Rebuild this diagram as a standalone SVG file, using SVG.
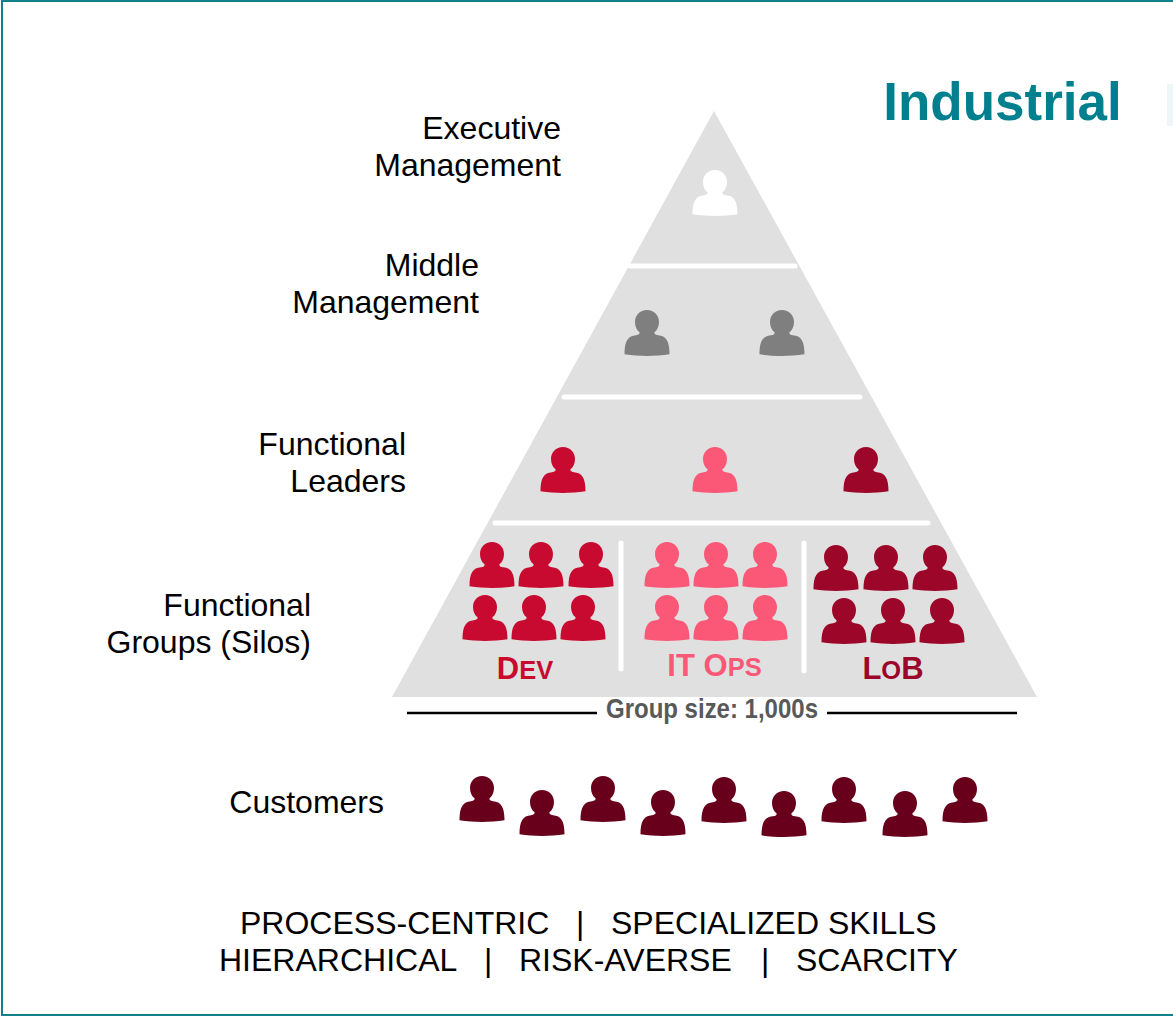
<svg xmlns="http://www.w3.org/2000/svg" width="1173" height="1016" viewBox="0 0 1173 1016">
<style>
text{font-family:"Liberation Sans",Arial,sans-serif}
.l{font-size:32px;fill:#000;text-anchor:end}
.b{font-size:32px;fill:#000}
.g{font-weight:700;text-anchor:middle}
.sep{stroke:#fff;stroke-width:5;stroke-linecap:round;fill:none}
.rule{stroke:#000;stroke-width:2.5;fill:none}
.w{fill:#fff}.y{fill:#7f7f7f}.r{fill:#c90a30}.p{fill:#fb5878}.d{fill:#9c0629}.c{fill:#69001b}
</style>
<defs>
<symbol id="person" viewBox="-23 0 46 46" width="46" height="46" overflow="visible">
<path d="M0 0C7 0 12 5.200 12 12C12 16.800 10.200 20 7.500 22.300C7 23.500 8 24.800 11 25.200C19 25.800 22.500 31 22.500 44.300C15 45.600 7.500 46 0 46C-7.500 46 -15 45.600 -22.500 44.300C-22.500 31 -19 25.800 -11 25.200C-8 24.800 -7 23.500 -7.500 22.300C-10.200 20 -12 16.800 -12 12C-12 5.200 -7 0 0 0Z"/>
</symbol>
</defs>
<rect x="2" y="1" width="1173" height="1014" fill="#fff" stroke="#14808e" stroke-width="2"/>
<rect x="1167" y="84" width="6" height="42" fill="#eef6f7"/>
<text x="1002.500" y="120" font-size="53" font-weight="700" fill="#007f8f" text-anchor="middle">Industrial</text>
<g id="pyramid">
<polygon points="714,111 1037,697 392,697" fill="#e0e0e0"/>
</g>
<g id="connectors">
<path class="sep" d="M630 266H795M564 397H860M495 523H928M621 543V669M804 543V671"/>
<path class="rule" d="M407 713H597M827 713H1017"/>
</g>
<g id="executive"><text class="l" x="561" y="139">Executive</text><text class="l" x="561" y="176">Management</text><use href="#person" x="692" y="170" class="w"/></g>
<g id="middle"><text class="l" x="479" y="276">Middle</text><text class="l" x="479" y="313">Management</text><use href="#person" x="624" y="310" class="y"/><use href="#person" x="759" y="310" class="y"/></g>
<g id="leaders"><text class="l" x="406" y="455">Functional</text><text class="l" x="406" y="492">Leaders</text><use href="#person" x="540" y="447" class="r"/><use href="#person" x="692" y="447" class="p"/><use href="#person" x="843" y="447" class="d"/></g>
<g id="groups"><text class="l" x="311" y="616">Functional</text><text class="l" x="311" y="653">Groups (Silos)</text></g>
<g id="dev">
<use href="#person" x="469" y="542" class="r"/><use href="#person" x="518" y="542" class="r"/><use href="#person" x="568" y="542" class="r"/>
<use href="#person" x="462" y="595" class="r"/><use href="#person" x="511" y="595" class="r"/><use href="#person" x="560" y="595" class="r"/>
<text class="g" x="525" y="679" fill="#c90a30" font-size="31">D<tspan font-size="25.500">EV</tspan></text></g>
<g id="itops">
<use href="#person" x="644" y="542" class="p"/><use href="#person" x="693" y="542" class="p"/><use href="#person" x="742" y="542" class="p"/>
<use href="#person" x="644" y="595" class="p"/><use href="#person" x="693" y="595" class="p"/><use href="#person" x="742" y="595" class="p"/>
<text class="g" x="714.500" y="676" fill="#fb5878" font-size="31">IT O<tspan font-size="25.500">PS</tspan></text></g>
<g id="lob">
<use href="#person" x="813" y="545" class="d"/><use href="#person" x="863" y="545" class="d"/><use href="#person" x="912" y="545" class="d"/>
<use href="#person" x="821" y="598" class="d"/><use href="#person" x="870" y="598" class="d"/><use href="#person" x="919" y="598" class="d"/>
<text class="g" x="893" y="679" fill="#9c0629" font-size="31">L<tspan font-size="25.500">O</tspan>B</text></g>
<g id="groupsize"><text class="g" x="712" y="718" fill="#595959" font-size="27" textLength="212" lengthAdjust="spacingAndGlyphs">Group size: 1,000s</text></g>
<g id="customers"><text class="l" x="384" y="813">Customers</text>
<use href="#person" x="459" y="776" class="c"/><use href="#person" x="519" y="790" class="c"/><use href="#person" x="580" y="776" class="c"/><use href="#person" x="640" y="790" class="c"/><use href="#person" x="701" y="777" class="c"/><use href="#person" x="761" y="791" class="c"/><use href="#person" x="821" y="777" class="c"/><use href="#person" x="882" y="791" class="c"/><use href="#person" x="942" y="777" class="c"/></g>
<g id="traits">
<text class="b" x="240" y="934">PROCESS-CENTRIC</text><text class="b" x="576" y="934">|</text><text class="b" x="611" y="934">SPECIALIZED SKILLS</text>
<text class="b" x="219" y="971">HIERARCHICAL</text><text class="b" x="484" y="971">|</text><text class="b" x="519" y="971">RISK-AVERSE</text><text class="b" x="761" y="971">|</text><text class="b" x="796" y="971">SCARCITY</text>
</g>
</svg>
